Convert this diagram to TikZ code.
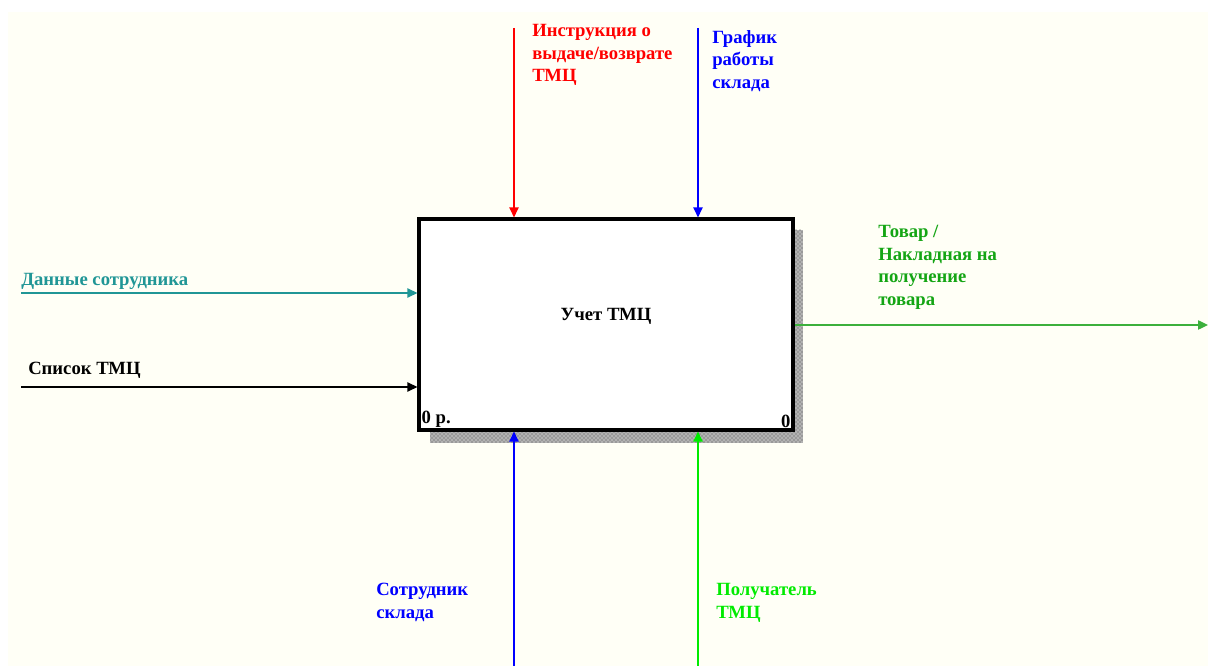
\documentclass[tikz,border=0pt]{standalone}
\usepackage{fontspec}
\setmainfont{Liberation Serif}
\usetikzlibrary{arrows.meta,positioning,patterns}

\definecolor{paper}{RGB}{255,255,246}
\definecolor{ctlred}{RGB}{255,0,0}
\definecolor{mechblue}{RGB}{0,0,255}
\definecolor{inteal}{RGB}{32,150,150}
\definecolor{outgreen}{RGB}{20,165,20}
\definecolor{outline}{RGB}{60,176,60}
\definecolor{mechgreen}{RGB}{0,235,0}

\begin{document}
\begin{tikzpicture}[x=0.75pt,y=-0.75pt,
  lbl/.style={font=\bfseries\fontsize{14}{16.9}\selectfont, align=left, anchor=north west, inner sep=0pt},
  arc/.style={line width=1pt, -{Triangle[length=7.5pt,width=7pt]}}]
\useasboundingbox (0,0) rectangle (1208,666);
\fill[white] (0,0) rectangle (1208,666);
\fill[paper] (8,12) rectangle (1208,666);

% activity box with shadow
\fill[black!30] (430,230) rectangle (803,443);
\fill[pattern=crosshatch dots, pattern color=black!70] (430,230) rectangle (803,443);
\node[draw, line width=2.4pt, fill=white, minimum width=280.5pt, minimum height=158.25pt,
  inner sep=0pt] (proc) at (606,324.5) {};
\node[font=\bfseries\fontsize{14}{16}\selectfont] (title) at (606,316) {Учет ТМЦ};
\node[anchor=south west, inner sep=3pt, font=\bfseries\fontsize{14}{16}\selectfont] (num) at (proc.south west) {0 р.};
\node[anchor=south east, inner sep=3pt, font=\bfseries\fontsize{14}{16}\selectfont] (cost) at (proc.south east) {0};

% free ends
\coordinate (c1) at (514,28);
\coordinate (c2) at (698,28);
\coordinate (i1) at (21,293);
\coordinate (i2) at (21,387);
\coordinate (o1) at (1208,325);
\coordinate (m1) at (514,666);
\coordinate (m2) at (698,666);

% controls
\draw[arc, ctlred] (c1) -- (c1 |- proc.north);
\draw[arc, mechblue] (c2) -- (c2 |- proc.north);
% inputs
\draw[arc, inteal] (i1) -- (i1 -| proc.west);
\draw[arc, black] (i2) -- (i2 -| proc.west);
% output
\draw[arc, outline] (o1 -| proc.east) -- (o1);
% mechanisms
\draw[arc, mechblue] (m1) -- (m1 |- proc.south);
\draw[arc, mechgreen] (m2) -- (m2 |- proc.south);

% labels
\node[lbl, text=ctlred] (instr) at (532,24) {Инструкция о\\выдаче/возврате\\ТМЦ};
\node[lbl, text=mechblue] (sched) at (712,30) {График\\работы\\склада};
\node[lbl, text=inteal] (data) at (21,273) {Данные сотрудника};
\node[lbl, text=black] (list) at (28,362) {Список ТМЦ};
\node[lbl, text=outgreen] (goods) at (878,225) {Товар /\\Накладная на\\получение\\товара};
\node[lbl, text=mechblue] (staff) at (376,583) {Сотрудник\\склада};
\node[lbl, text=mechgreen] (recv) at (716,583) {Получатель\\ТМЦ};
\end{tikzpicture}
\end{document}
